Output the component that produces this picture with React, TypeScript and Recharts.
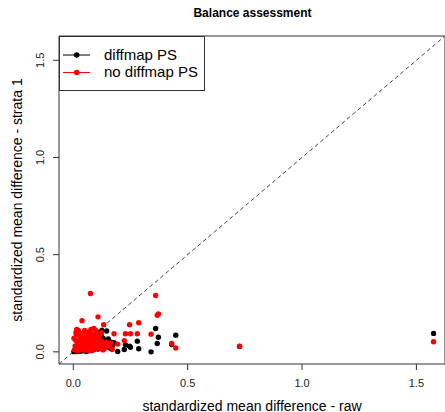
import React from "react";
import {
  ScatterChart,
  Scatter,
  XAxis,
  YAxis,
  ReferenceLine,
  ReferenceArea,
  Customized,
} from "recharts";

// raw standardized mean difference per covariate (shared x)
const rawSmd: number[] = [
  1.575, 0.727, 0.448, 0.43, 0.372, 0.367, 0.36, 0.34, 0.286, 0.28, 0.25, 0.246,
  0.228, 0.223, 0.194, 0.178, 0.17, 0.165, 0.16, 0.153, 0.146, 0.14, 0.133,
  0.005, 0.008, 0.01, 0.012, 0.015, 0.018, 0.02, 0.022, 0.025, 0.028, 0.03,
  0.032, 0.035, 0.038, 0.04, 0.042, 0.045, 0.048, 0.05, 0.052, 0.055, 0.057,
  0.06, 0.062, 0.065, 0.067, 0.07, 0.072, 0.075, 0.077, 0.078, 0.08, 0.082,
  0.085, 0.087, 0.09, 0.092, 0.095, 0.097, 0.1, 0.102, 0.105, 0.108, 0.11,
  0.112, 0.115, 0.118, 0.12, 0.123, 0.125, 0.128, 0.13, 0.003, 0.013, 0.027,
  0.043, 0.058, 0.068, 0.088, 0.098, 0.063, 0.047, 0.033, 0.073,
];

// strata 1 SMD with diffmap PS (black)
const diffmapSmd: number[] = [
  0.095, 0.028, 0.086, 0.038, 0.075, 0.043, 0.12, 0.0, 0.016, 0.055, 0.024, 0.029,
  0.036, 0.012, 0.002, 0.047, 0.03, 0.05, 0.02, 0.067, 0.107, 0.04, 0.06,
  0.003, 0.01, 0.005, 0.02, 0.002, 0.015, 0.008, 0.025, 0.012, 0.03, 0.004,
  0.018, 0.04, 0.01, 0.022, 0.005, 0.035, 0.015, 0.045, 0.028, 0.008, 0.05,
  0.02, 0.038, 0.012, 0.055, 0.025, 0.06, 0.03, 0.008, 0.048, 0.065, 0.018,
  0.07, 0.04, 0.075, 0.028, 0.08, 0.055, 0.09, 0.035, 0.085, 0.015, 0.1,
  0.045, 0.065, 0.095, 0.03, 0.08, 0.11, 0.05, 0.07, 0.001, 0.012, 0.005,
  0.03, 0.002, 0.04, 0.01, 0.02, 0.07, 0.06, 0.05, 0.085,
];

// strata 1 SMD without diffmap PS (red)
const noDiffmapSmd: number[] = [
  0.052, 0.029, 0.02, 0.043, 0.195, 0.188, 0.29, 0.091, 0.15, 0.093, 0.093, 0.14,
  0.093, 0.058, 0.04, 0.093, 0.012, 0.045, 0.035, 0.03, 0.05, 0.02, 0.14,
  0.01, 0.03, 0.06, 0.1, 0.115, 0.005, 0.045, 0.11, 0.02, 0.08, 0.035,
  0.012, 0.095, 0.16, 0.05, 0.025, 0.07, 0.008, 0.11, 0.04, 0.018, 0.085,
  0.06, 0.03, 0.1, 0.045, 0.015, 0.075, 0.3, 0.115, 0.055, 0.035, 0.09,
  0.01, 0.065, 0.12, 0.04, 0.025, 0.07, 0.05, 0.095, 0.015, 0.18, 0.06,
  0.03, 0.085, 0.045, 0.02, 0.1, 0.055, 0.035, 0.01, 0.07, 0.09, 0.055,
  0.015, 0.095, 0.005, 0.03, 0.11, 0.05, 0.02, 0.065, 0.04,
];

const axisTicks: number[] = [0, 0.5, 1, 1.5];
const axisDomain: [number, number] = [-0.0625, 1.625];

const seriesNames = ["diffmap PS", "no diffmap PS"];
const seriesColors = ["#000000", "#ff0000"];

const blackData = rawSmd.map((x, i) => ({ x, y: diffmapSmd[i] }));
const redData = rawSmd.map((x, i) => ({ x, y: noDiffmapSmd[i] }));

const FONT = "'Liberation Sans', Arial, Helvetica, sans-serif";

const dot = (color: string) => (props: any) =>
  <circle cx={props.cx} cy={props.cy} r={2.7} fill={color} stroke="none" />;

const XTick = (props: any) => {
  const { x, y, payload } = props;
  return (
    <text x={x} y={y + 15} textAnchor="middle" fontSize={11} fontFamily={FONT} fill="#222">
      {Number(payload.value).toFixed(1)}
    </text>
  );
};

const YTick = (props: any) => {
  const { x, y, payload } = props;
  return (
    <text
      transform={`translate(${x - 6.8},${y}) rotate(-90)`}
      textAnchor="middle"
      fontSize={11}
      fontFamily={FONT}
      fill="#222"
    >
      {Number(payload.value).toFixed(1)}
    </text>
  );
};

const Decorations = () => (
  <g fontFamily={FONT}>
    <text x={252.5} y={16.5} textAnchor="middle" fontSize={12} fontWeight="bold" fill="#000">
      Balance assessment
    </text>
    <text x={252} y={410.5} textAnchor="middle" fontSize={14} fill="#000">
      standardized mean difference - raw
    </text>
    <text transform="translate(21.5,200) rotate(-90)" textAnchor="middle" fontSize={14} fill="#000">
      standardized mean difference - strata 1
    </text>
    <rect x={59.5} y={36.5} width={145} height={54} fill="#fff" stroke="#333" strokeWidth={1} />
    {seriesNames.map((name, i) => (
      <g key={name}>
        <line x1={63} x2={90} y1={55 + i * 17.5} y2={55 + i * 17.5} stroke={seriesColors[i]} strokeWidth={1} />
        <circle cx={76.7} cy={55 + i * 17.5} r={2.8} fill={seriesColors[i]} />
        <text x={104} y={59.5 + i * 17.5} fontSize={15} fill="#000">
          {name}
        </text>
      </g>
    ))}
  </g>
);

export default function App() {
  return (
    <div style={{ position: "absolute", left: 0, top: 0, background: "#fff" }}>
      <ScatterChart width={445} height={412} margin={{ top: 36, right: 0, bottom: 0, left: 0 }}>
        <XAxis
          dataKey="x"
          type="number"
          domain={axisDomain}
          ticks={axisTicks}
          allowDataOverflow
          height={48}
          tickSize={6}
          tickMargin={2}
          axisLine={false}
          tickLine={{ stroke: "#333" }}
          tick={<XTick />}
        />
        <YAxis
          dataKey="y"
          type="number"
          domain={axisDomain}
          ticks={axisTicks}
          allowDataOverflow
          width={59}
          tickSize={6}
          tickMargin={2}
          axisLine={false}
          tickLine={{ stroke: "#333" }}
          tick={<YTick />}
        />
        <ReferenceArea
          x1={axisDomain[0]}
          x2={axisDomain[1]}
          y1={axisDomain[0]}
          y2={axisDomain[1]}
          fill="none"
          fillOpacity={0}
          stroke="#333"
          strokeWidth={1}
          ifOverflow="visible"
        />
        <ReferenceLine
          segment={[
            { x: axisDomain[0], y: axisDomain[0] },
            { x: axisDomain[1], y: axisDomain[1] },
          ]}
          stroke="#444"
          strokeDasharray="4 3"
          strokeWidth={1}
          ifOverflow="visible"
        />
        <Scatter data={blackData} fill={seriesColors[0]} shape={dot(seriesColors[0])} isAnimationActive={false} />
        <Scatter data={redData} fill={seriesColors[1]} shape={dot(seriesColors[1])} isAnimationActive={false} />
        <Customized component={Decorations} />
      </ScatterChart>
    </div>
  );
}
